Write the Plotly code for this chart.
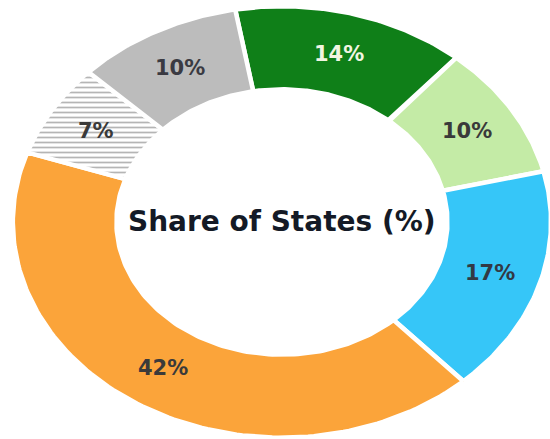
import numpy as np
import plotly.graph_objects as go

# Share of states by group, drawn clockwise from the start angle
shares = [14, 10, 17, 42, 7, 10]
labels = ["14%", "10%", "17%", "42%", "7%", "10%"]
colors = ["#0f7f18", "#c4eba6", "#36c6f8", "#fba43a", "#ffffff", "#bcbcbc"]
label_colors = ["#f2f6e2", "#3a3a3a", "#333944", "#3a3a3a", "#3a3a3a", "#3a3a42"]
hatched = [False, False, False, False, True, False]
center_title = "Share of States (%)"

start_deg = -10.0      # clockwise from 12 o'clock
hole = 0.62            # inner radius as fraction of outer
outer = 1.008

fig = go.Figure()

total = float(sum(shares))
angle = start_deg
for share, lab, col, lcol, hat in zip(shares, labels, colors, label_colors, hatched):
    span = 360.0 * share / total
    a = np.radians(np.linspace(angle, angle + span, 120))
    xs = np.concatenate([outer * np.sin(a), hole * np.sin(a[::-1])])
    ys = np.concatenate([outer * np.cos(a), hole * np.cos(a[::-1])])
    xs = np.append(xs, xs[0])
    ys = np.append(ys, ys[0])
    trace = dict(
        x=xs, y=ys, mode="lines", fill="toself", fillcolor=col,
        line=dict(color="white", width=4.5), hoverinfo="skip", showlegend=False,
    )
    if hat:
        trace["fillpattern"] = dict(shape="-", fgcolor="#6c6c6c", bgcolor="white",
                                    size=5, solidity=0.35)
    fig.add_trace(go.Scatter(**trace))

    mid = np.radians(angle + span / 2)
    r_lab = (outer + hole) / 2
    fig.add_annotation(x=r_lab * np.sin(mid), y=r_lab * np.cos(mid), text=lab,
                       showarrow=False,
                       font=dict(family="DejaVu Sans", size=21, color=lcol, weight="bold"))
    angle += span

fig.add_annotation(x=0.0, y=0.0, text=center_title, showarrow=False,
                   font=dict(family="DejaVu Sans", size=28, color="#141a26", weight="bold"))

fig.update_layout(
    width=550, height=439,
    margin=dict(l=0, r=0, t=0, b=0),
    paper_bgcolor="white", plot_bgcolor="white",
    xaxis=dict(range=[-1.056, 1.004], visible=False, fixedrange=True),
    yaxis=dict(range=[-1.014, 1.037], visible=False, fixedrange=True),
)

fig.write_html("out.html")
